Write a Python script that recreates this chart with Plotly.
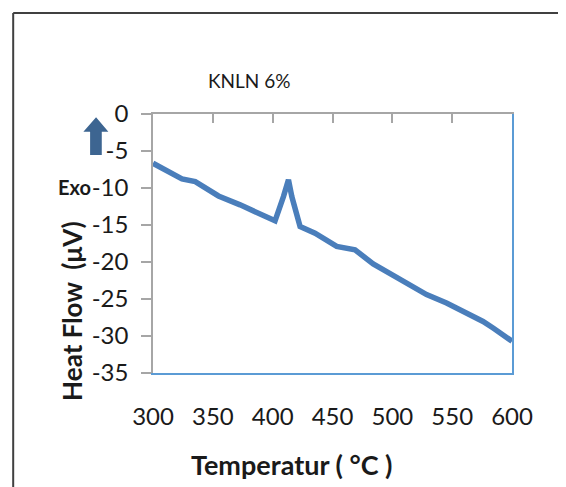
import plotly.graph_objects as go

temperature = [300, 310.3, 324.2, 335.3, 354.7, 372.8, 386.7, 402, 409, 413.2, 416, 422.9,
               435.4, 453.5, 468.8, 484, 500.7, 528.6, 545.3, 575.8, 584.2, 600]
heat_flow = [-6.66, -7.56, -8.77, -9.13, -11.07, -12.28, -13.27, -14.44, -11.16, -8.9, -11.16, -15.2,
             -16.1, -17.9, -18.36, -20.25, -21.8, -24.4, -25.55, -28.03, -28.93, -30.7]
x_ticks = [300, 350, 400, 450, 500, 550, 600]
y_ticks = [0, -5, -10, -15, -20, -25, -30, -35]
y_tick_text = ["0", "-5", "-10", "-15", "-20", "-25", "-30", "-35"]

W, H = 566, 487
OFF = 8  # page body margin offset
L, R, T, B = 153 - OFF, 512.5 - OFF, 114 - OFF, 373.3 - OFF

def px(x):
    return (x - OFF - L) / (R - L)

def py(y):
    return (B - (y - OFF)) / (B - T)

FONT = "Lato"
TXT = "#1a1a1a"
GRAY = "#a6a6a6"
BLUE = "#5b9bd5"

fig = go.Figure()
fig.add_trace(go.Scatter(x=temperature, y=heat_flow, mode="lines",
                         line=dict(color="#4a7ebb", width=5.5), showlegend=False))
fig.add_trace(go.Scatter(x=[300, 600], y=[0, 0], xaxis="x2", mode="lines",
                         line=dict(width=0), showlegend=False, hoverinfo="skip"))
fig.add_trace(go.Scatter(x=[300, 600], y=[0, 0], yaxis="y2", mode="lines",
                         line=dict(width=0), showlegend=False, hoverinfo="skip"))

fig.update_layout(
    width=W, height=H,
    margin=dict(l=L, r=W - R, t=T, b=H - B, autoexpand=False),
    paper_bgcolor="white", plot_bgcolor="white",
    font=dict(family=FONT, color=TXT),
    xaxis=dict(range=[300, 600], tickvals=x_ticks, showgrid=False, zeroline=False,
               showline=True, linecolor=BLUE, linewidth=1.5, ticks="",
               ticklabelstandoff=21, tickfont=dict(size=24, family=FONT, color=TXT)),
    xaxis2=dict(range=[300, 600], tickvals=x_ticks, overlaying="x", side="top",
                showgrid=False, zeroline=False, showline=True, linecolor=GRAY, linewidth=1.5,
                ticks="inside", ticklen=9, tickcolor=GRAY, tickwidth=1.5, showticklabels=False),
    yaxis=dict(range=[-35, 0], tickvals=y_ticks, ticktext=y_tick_text, showgrid=False,
               zeroline=False, showline=True, linecolor=GRAY, linewidth=1.5, ticks="outside",
               ticklen=10, tickcolor=GRAY, tickwidth=1.5, ticklabelstandoff=8,
               tickfont=dict(size=24, family=FONT, color=TXT)),
    yaxis2=dict(range=[-35, 0], overlaying="y", side="right", showgrid=False, zeroline=False,
                showline=True, linecolor=BLUE, linewidth=1.5, ticks="", showticklabels=False),
)

# outer frame
fig.add_shape(type="line", xref="paper", yref="paper", x0=px(13), x1=px(580), y0=py(13), y1=py(13),
              line=dict(color="#404040", width=2))
fig.add_shape(type="line", xref="paper", yref="paper", x0=px(13), x1=px(13), y0=py(13), y1=py(500),
              line=dict(color="#404040", width=2))

# exo arrow
arrow = [(96, 117.3), (108.3, 131.7), (101.7, 131.7), (101.7, 155), (90, 155), (90, 131.7), (83.3, 131.7)]
path = "M " + " L ".join(f"{px(a):.4f},{py(b):.4f}" for a, b in arrow) + " Z"
fig.add_shape(type="path", xref="paper", yref="paper", path=path,
              fillcolor="#3d6591", line=dict(width=0))

def label(text, x, y, size, angle=0):
    fig.add_annotation(text=text, xref="paper", yref="paper", x=px(x), y=py(y),
                       xanchor="center", yanchor="middle", textangle=angle,
                       showarrow=False, font=dict(size=size, family=FONT, color=TXT))

label("KNLN 6%", 249, 80, 19)
label("<b>Exo</b>", 74, 187, 20)
label("<b>Heat Flow\u00a0\u00a0(μV)</b>", 72, 312, 26, -90)
label("<b>Temperatur ( °C )</b>", 292, 465, 27)

fig.write_html("out.html")
